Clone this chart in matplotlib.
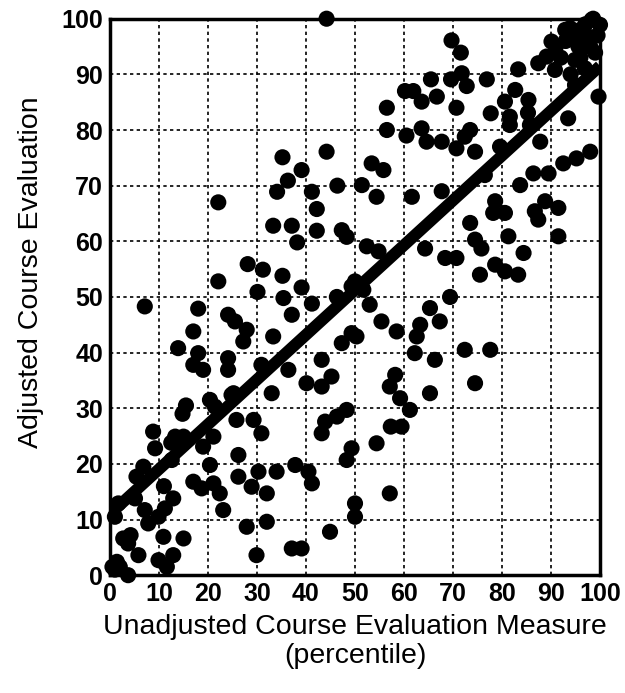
import numpy as np
import matplotlib
matplotlib.use("Agg")
import matplotlib.pyplot as plt

plt.rcParams['font.family'] = ['Liberation Sans', 'DejaVu Sans']

# unadjusted percentile (x) / adjusted percentile (y)
unadj = [
    0.5, 1.4, 2, 1, 3.7, 2.7, 3.7, 4.2, 5.8, 1.7, 1, 5.1, 7.1, 7.8, 9.9, 11.2,
    12.9, 10.9, 15, 12.9, 9.9, 11.6, 11, 8.8, 9.2, 13.3, 15, 12.5, 6.8, 5.4,
    12.6, 15.5, 14.8,
    7.1, 13.9, 17, 18, 18, 17, 19, 20.4, 21.4, 24.8, 21.1, 19, 20.4, 17, 18.7,
    21.1, 22.4, 23.1, 26.2, 30.3, 34, 28.9, 32, 37.8, 40.5, 41.2, 27.9, 32,
    29.9, 37.1, 39.1, 44.9, 50, 50, 48.3, 49.3, 26.2, 29.3, 25.8, 30.9, 33,
    24.1, 24.1, 30.9, 36.4, 40.1, 43.2, 45.2, 43.2, 47.3, 49.3, 50.3, 24.1,
    25.5, 27.9, 27.2, 33.3, 37.1, 41.2, 35.4, 30.1, 46.3, 25.2,
    48.3, 46.3, 43.9, 43.2, 54.4, 57.3, 59.5, 61.2, 59.2, 57.1, 58.2, 65.3,
    62.2, 66.3, 72.4, 77.6, 74.5, 63.3, 62.6, 65.3, 67.3, 69.4, 53, 55.4, 58.5,
    57.1,
    22.1, 22.1, 28.1, 31.2, 35.2, 39.1, 49.3, 33.3, 37.1, 42.2, 47.3, 48.3,
    38.2, 35.2, 39.1, 36.3, 34.1, 41.2, 46.4, 42.2, 44.2, 44.2,
    52.4, 54.8, 50, 51.7, 53.4, 55.8, 51.4, 54.4, 61.6, 67.7, 56.5, 56.5, 60.2,
    61.9, 63.6, 66.7, 60.5, 63.6, 64.6, 67.7, 70.7, 73.5, 72.4, 74.5, 79.6,
    87.8, 76.5, 83.7, 86.4, 89.5, 92.5, 95.2, 98, 78.6, 78.2, 80.6, 86.7, 88.8,
    91.5, 87.4, 91.5, 73.5, 74.5, 75.8, 81.3, 64.3, 68.4, 70.7, 78.6, 80.6,
    75.5, 83.3, 84.4,
    69.7, 71.6, 65.5, 69.6, 71.8, 72.8, 76.9, 83.3, 70.7, 77.7, 80.6, 82.7,
    85.4, 81.6, 81.6, 85.3, 85.7, 93.5, 89.1, 87.4, 90.8, 90.1, 92.9, 95.6,
    98.3, 100, 97.6, 94.9, 96.9, 99, 94.9, 99.7, 98.6, 93.9, 96, 99.5,
    91, 93, 95, 97, 96, 98, 92, 94,
]
adj = [
    1.5, 2.4, 1.5, 1, 0, 6.6, 5.7, 7.2, 3.6, 12.9, 10.5, 13.8, 11.7, 9.3, 10.5,
    12, 13.8, 6.9, 6.6, 3.6, 2.7, 1.5, 16, 25.8, 22.8, 24.9, 24.9, 23.8, 19.5,
    17.7, 20.7, 30.5, 29,
    48.3, 40.8, 43.8, 47.9, 39.9, 37.8, 36.9, 31.5, 30.3, 32.4, 24.9, 23.1,
    19.8, 16.8, 15.6, 16.5, 14.7, 11.7, 17.7, 18.6, 18.6, 15.9, 14.7, 19.8,
    18.6, 16.5, 8.7, 9.6, 3.6, 4.8, 4.8, 7.8, 12.9, 10.5, 20.7, 22.8, 21.6,
    27.9, 27.9, 25.5, 32.7, 39, 36.9, 37.8, 36.9, 34.5, 38.7, 35.7, 33.9, 41.7,
    43.5, 42.9, 46.8, 45.6, 44.1, 42, 42.9, 46.8, 48.8, 49.8, 50.9, 50, 32.7,
    29.7, 28.5, 27.6, 25.5, 23.7, 26.7, 26.7, 29.7, 31.8, 33.9, 36, 32.7, 39.9,
    38.7, 40.5, 40.5, 34.5, 45, 42.9, 48, 45.6, 50, 48.6, 45.6, 43.8, 14.7,
    67, 52.8, 55.9, 54.9, 53.8, 51.7, 51.9, 62.8, 62.8, 61.9, 62, 60.8, 59.8,
    75.1, 72.8, 70.9, 68.9, 68.9, 70, 65.8, 76.1, 100,
    59.1, 58.2, 52.8, 51.3, 74, 72.8, 70.1, 68, 68, 69, 84, 80, 87, 87, 85.1,
    86, 79, 80.3, 77.9, 77.9, 76.7, 80, 78.8, 76.1, 77, 77.9, 71.9, 70.1, 72.2,
    72.2, 74, 74.9, 76.1, 67.2, 65.1, 65.1, 65.4, 67.2, 66, 63.9, 60.9, 63.3,
    60.3, 58.7, 60.9, 58.7, 57, 57, 55.8, 54.6, 54, 54, 57.9,
    96.1, 93.9, 89.1, 89.1, 90.2, 87.9, 89.1, 90.9, 84, 83, 85.1, 87.2, 85.4,
    82.4, 80.9, 83.1, 80.9, 82.1, 93.2, 92, 90.8, 95.9, 98, 95, 99.8, 98.9,
    96.8, 92.6, 91.1, 93.9, 88.1, 86, 100, 98.3, 98, 97,
    95, 96, 97, 99, 93, 95, 93, 90,
]

# fitted line end points
fit_x = [0, 100]
fit_y = [11, 91.5]

ticks = list(range(0, 101, 10))

fig = plt.figure(figsize=(6.25, 6.93), dpi=100)
ax = fig.add_axes([0.176, 0.170, 0.784, 0.803])

ax.scatter(unadj, adj, s=135, color="black", edgecolors="none", zorder=3, clip_on=False)
ax.plot(fit_x, fit_y, color="black", lw=8.5, solid_capstyle="butt", zorder=4)

ax.set_xlim(0, 100)
ax.set_ylim(0, 100)
ax.set_xticks(ticks)
ax.set_yticks(ticks)
ax.grid(True, color="black", linestyle=(0, (2, 2)), lw=1.2)
ax.set_axisbelow(True)
ax.tick_params(length=0, labelsize=18, pad=5)
for lab in ax.get_xticklabels() + ax.get_yticklabels():
    lab.set_fontweight("bold")
for sp in ax.spines.values():
    sp.set_linewidth(2.5)
    sp.set_zorder(5)

ax.set_xlabel("Unadjusted Course Evaluation Measure\n(percentile)", fontsize=20.5,
              labelpad=6, linespacing=1.15)
ax.set_ylabel("Adjusted Course Evaluation", fontsize=20.5)
ax.yaxis.set_label_coords(-0.135, 0.545)

plt.savefig("out.png", dpi=100)
